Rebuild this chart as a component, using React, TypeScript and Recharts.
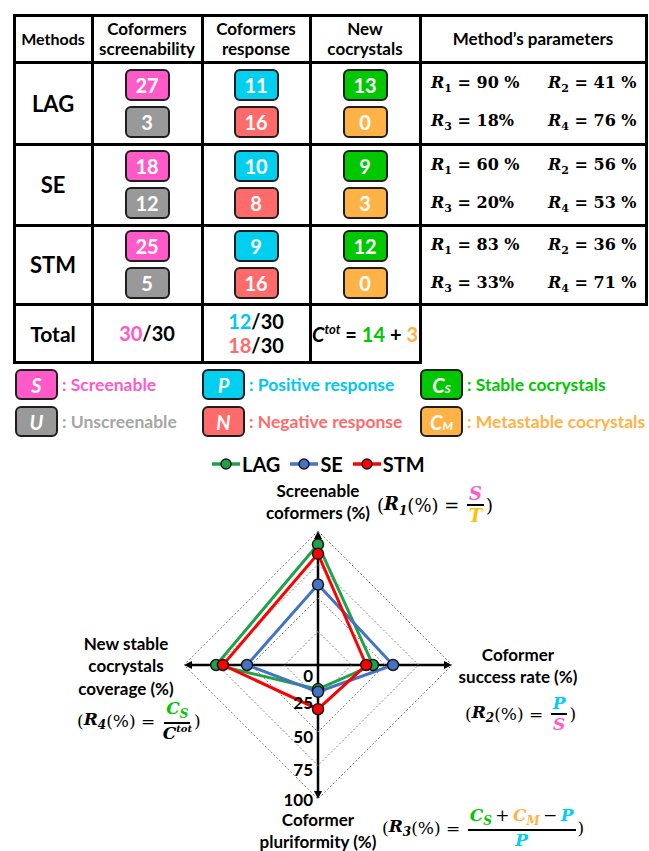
import React from 'react';
import { RadarChart, Radar, PolarGrid, PolarAngleAxis, PolarRadiusAxis } from 'recharts';

// radar values (R1..R4 in %) per method
const axisKeys = ['R1', 'R2', 'R3', 'R4'];
const lagValues = [90, 41, 18, 76];
const seValues = [60, 56, 20, 53];
const stmValues = [83, 36, 33, 71];
const radiusTicks = [0, 25, 50, 75, 100];

// table counts
const methods = ['LAG', 'SE', 'STM'];
const screenable = [27, 18, 25];
const unscreenable = [3, 12, 5];
const positiveResp = [11, 10, 9];
const negativeResp = [16, 8, 16];
const stableCocrystals = [13, 9, 12];
const metastableCocrystals = [0, 3, 0];
const totalCoformers = 30;
const totalScreenable = 30;
const totalPositive = 12;
const totalNegative = 18;
const totalStable = 14;
const totalMetastable = 3;

const angleLabels = [
  ['Screenable', 'coformers (%)'],
  ['Coformer', 'success rate (%)'],
  ['Coformer', 'pluriformity (%)'],
  ['New stable', 'cocrystals', 'coverage (%)'],
];

const PINK = '#FF5AC8';
const GRAY = '#999999';
const CYAN = '#00CFEF';
const SALMON = '#FF6B6B';
const GREEN = '#00C800';
const ORANGE = '#FFB347';
const GOLD = '#FFC000';
const GRAY_TEXT = '#A6A6A6';

const FONT = 'Lato, "Noto Sans", sans-serif';
const SERIF = '"DejaVu Serif", serif';

const series = [
  { name: 'LAG', color: '#1DA34A', values: lagValues },
  { name: 'SE', color: '#4472C4', values: seValues },
  { name: 'STM', color: '#FF0000', values: stmValues },
];

const radarData = axisKeys.map((k, i) => {
  const row: any = { axis: k };
  series.forEach((s) => (row[s.name] = s.values[i]));
  return row;
});

const W = 649;
const H = 851;
const CHART_TOP = 440;
const CX = 318;
const CY = 225;
const R = 134;

const colX = [14, 92, 202, 310, 420, 646];
const rowY = [15, 62, 144, 225, 304, 362];

const cellStyle = (c: number, r: number): React.CSSProperties => ({
  position: 'absolute',
  left: colX[c],
  top: rowY[r],
  width: colX[c + 1] - colX[c],
  height: rowY[r + 1] - rowY[r],
  display: 'flex',
  flexDirection: 'column',
  alignItems: 'center',
  justifyContent: 'center',
  gap: 5,
  fontWeight: 700,
});

const Badge = ({ color, children, w = 45, h = 32, italic = false }: any) => (
  <div
    style={{
      width: w,
      height: h,
      boxSizing: 'border-box',
      background: color,
      border: '2.5px solid #1e1e1e',
      borderRadius: 6,
      color: '#fff',
      fontWeight: 700,
      fontSize: 20,
      fontStyle: italic ? 'italic' : 'normal',
      display: 'flex',
      alignItems: 'center',
      justifyContent: 'center',
      lineHeight: 1,
    }}
  >
    {children}
  </div>
);

const Param = ({ idx, value, space = true }: any) => (
  <span style={{ fontFamily: SERIF, fontWeight: 700, fontSize: 16, whiteSpace: 'nowrap' }}>
    <i>R</i>
    <sub style={{ fontSize: 11 }}>{idx}</sub> = {value}
    {space ? ' %' : '%'}
  </span>
);

const Frac = ({ num, den }: any) => (
  <span
    style={{
      display: 'inline-flex',
      flexDirection: 'column',
      alignItems: 'center',
      verticalAlign: 'middle',
      margin: '0 2px',
    }}
  >
    <span style={{ borderBottom: '2px solid #000', padding: '0 2px', lineHeight: 1.1, textAlign: 'center' }}>{num}</span>
    <span style={{ lineHeight: 1.1 }}>{den}</span>
  </span>
);

const BI = ({ color, children, sub }: any) => (
  <span style={{ color, fontStyle: 'italic', fontWeight: 700 }}>
    {children}
    {sub && <sub style={{ fontSize: 12 }}>{sub}</sub>}
  </span>
);

const Formula = ({ left, centerY, idx, num, den, size = 18 }: any) => (
  <div
    style={{
      position: 'absolute',
      left,
      top: centerY - 25,
      height: 50,
      display: 'flex',
      alignItems: 'center',
      fontFamily: SERIF,
      fontSize: size,
      whiteSpace: 'nowrap',
    }}
  >
    <span>(</span>
    <BI sub={idx}>R</BI>
    <span>(%) =&nbsp;</span>
    <Frac num={num} den={den} />
    <span>)</span>
  </div>
);

const renderAngleTick = (props: any) => {
  const { x, y, payload } = props;
  const i = axisKeys.indexOf(payload.value);
  const offsets = [
    [0, -33],
    [58, -11],
    [0, 12],
    [-50, -22],
  ];
  const [dx, dy] = offsets[i];
  return (
    <g>
      {angleLabels[i].map((line, j) => (
        <text
          key={j}
          x={x + dx}
          y={y + dy + j * 22.5}
          textAnchor="middle"
          dominantBaseline="central"
          style={{ fontFamily: FONT, fontWeight: 700, fontSize: 17, fill: '#000' }}
        >
          {line}
        </text>
      ))}
    </g>
  );
};

const renderRadiusTick = (props: any) => {
  const { x, y, payload } = props;
  const v = payload.value;
  const dy = v === 0 ? 10 : v === 100 ? 0 : 4;
  return (
    <text
      x={x - 5}
      y={y + dy}
      textAnchor="end"
      dominantBaseline="central"
      style={{ fontFamily: FONT, fontWeight: 700, fontSize: 17, fill: '#000' }}
    >
      {v}
    </text>
  );
};

const AxisCross = () => {
  const dirs = [
    [0, -1],
    [1, 0],
    [0, 1],
    [-1, 0],
  ];
  return (
    <svg width={W} height={H - CHART_TOP} style={{ position: 'absolute', left: 0, top: CHART_TOP }}>
      {dirs.map(([dx, dy], i) => {
        const x2 = CX + dx * R;
        const y2 = CY + dy * R;
        const bx = x2 - dx * 8;
        const by = y2 - dy * 8;
        const pts = `${x2},${y2} ${bx - dy * 4},${by + dx * 4} ${bx + dy * 4},${by - dx * 4}`;
        return (
          <g key={i}>
            <line x1={CX} y1={CY} x2={bx} y2={by} stroke="#000" strokeWidth={2.5} />
            <polygon points={pts} fill="#000" />
          </g>
        );
      })}
    </svg>
  );
};

const legendRows = [
  [
    { x: 15, color: PINK, letter: 'S', text: ': Screenable', textColor: PINK },
    { x: 202, color: CYAN, letter: 'P', text: ': Positive response', textColor: '#00C8F0' },
    { x: 420, color: GREEN, letter: 'C', sub: 'S', text: ': Stable cocrystals', textColor: GREEN },
  ],
  [
    { x: 15, color: GRAY, letter: 'U', text: ': Unscreenable', textColor: GRAY_TEXT },
    { x: 202, color: SALMON, letter: 'N', text: ': Negative response', textColor: SALMON },
    { x: 420, color: ORANGE, letter: 'C', sub: 'M', text: ': Metastable cocrystals', textColor: ORANGE },
  ],
];
const legendRowTop = [369, 406];

export default function App() {
  const paramSets = [lagValues, seValues, stmValues];
  return (
    <div style={{ position: 'relative', width: W, height: H, overflow: 'hidden', background: '#fff', fontFamily: FONT }}>
      <style>{'body{margin:0}'}</style>

      {/* table grid */}
      {rowY.map((y, i) => {
        const x1 = i === 5 ? colX[4] : colX[5];
        return (
          <div key={'h' + i} style={{ position: 'absolute', left: colX[0] - 1.5, top: y - 1.5, width: x1 - colX[0] + 3, height: 3, background: '#000' }} />
        );
      })}
      {colX.map((x, i) => {
        const y1 = i === 5 ? rowY[4] : rowY[5];
        return (
          <div key={'v' + i} style={{ position: 'absolute', left: x - 1.5, top: rowY[0] - 1.5, width: 3, height: y1 - rowY[0] + 3, background: '#000' }} />
        );
      })}

      {/* header */}
      {['Methods', 'Coformers\nscreenability', 'Coformers\nresponse', 'New\ncocrystals', 'Method\u2019s parameters'].map((t, c) => (
        <div key={'hd' + c} style={{ ...cellStyle(c, 0), gap: 0, fontSize: c === 0 ? 16 : 17, lineHeight: '20px', textAlign: 'center', whiteSpace: 'pre' }}>
          {t}
        </div>
      ))}

      {/* method rows */}
      {methods.map((m, i) => (
        <React.Fragment key={m}>
          <div style={{ ...cellStyle(0, i + 1), fontSize: 22 }}>{m}</div>
          <div style={cellStyle(1, i + 1)}>
            <Badge color={PINK}>{screenable[i]}</Badge>
            <Badge color={GRAY}>{unscreenable[i]}</Badge>
          </div>
          <div style={cellStyle(2, i + 1)}>
            <Badge color={CYAN}>{positiveResp[i]}</Badge>
            <Badge color={SALMON}>{negativeResp[i]}</Badge>
          </div>
          <div style={cellStyle(3, i + 1)}>
            <Badge color={GREEN}>{stableCocrystals[i]}</Badge>
            <Badge color={ORANGE}>{metastableCocrystals[i]}</Badge>
          </div>
          <div style={{ ...cellStyle(4, i + 1), alignItems: 'stretch', gap: 0 }}>
            {[
              [1, 2],
              [3, 4],
            ].map(([a, b], j) => (
              <div key={j} style={{ position: 'relative', height: 38, display: 'flex', alignItems: 'center' }}>
                <div style={{ position: 'absolute', left: 11 }}>
                  <Param idx={a} value={paramSets[i][a - 1]} space={a !== 3} />
                </div>
                <div style={{ position: 'absolute', left: 128 }}>
                  <Param idx={b} value={paramSets[i][b - 1]} />
                </div>
              </div>
            ))}
          </div>
        </React.Fragment>
      ))}

      {/* totals */}
      <div style={{ ...cellStyle(0, 4), fontSize: 21 }}>Total</div>
      <div style={{ ...cellStyle(1, 4), fontSize: 20 }}>
        <span>
          <span style={{ color: PINK }}>{totalScreenable}</span>/{totalCoformers}
        </span>
      </div>
      <div style={{ ...cellStyle(2, 4), fontSize: 20, gap: 0, lineHeight: '24px' }}>
        <span>
          <span style={{ color: '#00C8F0' }}>{totalPositive}</span>/{totalCoformers}
        </span>
        <span>
          <span style={{ color: SALMON }}>{totalNegative}</span>/{totalCoformers}
        </span>
      </div>
      <div style={{ ...cellStyle(3, 4), fontSize: 20 }}>
        <span style={{ whiteSpace: 'nowrap' }}>
          <i>C</i>
          <sup style={{ fontSize: 13, fontStyle: 'italic' }}>tot</sup> = <span style={{ color: GREEN }}>{totalStable}</span> +{' '}
          <span style={{ color: ORANGE }}>{totalMetastable}</span>
        </span>
      </div>

      {/* badge legend */}
      {legendRows.map((row, r) =>
        row.map((e, k) => (
          <div key={r + '-' + k} style={{ position: 'absolute', left: e.x, top: legendRowTop[r], display: 'flex', alignItems: 'center', gap: 4 }}>
            <Badge color={e.color} w={43} h={31} italic>
              {e.letter}
              {e.sub && <sub style={{ fontSize: 12, marginTop: 8 }}>{e.sub}</sub>}
            </Badge>
            <span style={{ color: e.textColor, fontWeight: 700, fontSize: 17.5 }}>{e.text}</span>
          </div>
        ))
      )}

      {/* radar legend */}
      <div style={{ position: 'absolute', left: 212, top: 452, height: 24, display: 'flex', alignItems: 'center', gap: 10 }}>
        {series.map((s) => (
          <div key={s.name} style={{ display: 'flex', alignItems: 'center', gap: 2 }}>
            <svg width={28} height={14}>
              <line x1={0} y1={7} x2={28} y2={7} stroke={s.color} strokeWidth={3.5} />
              <circle cx={14} cy={7} r={5} fill={s.color} stroke="#1a1a1a" strokeWidth={1.5} />
            </svg>
            <span style={{ fontWeight: 700, fontSize: 20 }}>{s.name}</span>
          </div>
        ))}
      </div>

      <AxisCross />
      <div style={{ position: 'absolute', left: 0, top: CHART_TOP }}>
        <RadarChart
          width={W}
          height={H - CHART_TOP}
          data={radarData}
          cx={CX}
          cy={CY}
          outerRadius={R}
          startAngle={90}
          endAngle={-270}
          margin={{ top: 0, right: 0, bottom: 0, left: 0 }}
        >
          <PolarGrid gridType="polygon" radialLines={false} stroke="#8a8a8a" strokeDasharray="2 2" />
          <PolarAngleAxis dataKey="axis" tick={renderAngleTick} axisLine={false} tickLine={false} />
          <PolarRadiusAxis
            angle={-90}
            domain={[0, 100]}
            ticks={radiusTicks as any}
            tickCount={radiusTicks.length}
            axisLine={false}
            tickLine={false}
            tick={renderRadiusTick}
          />
          {series.map((s) => (
            <Radar
              key={s.name}
              name={s.name}
              dataKey={s.name}
              stroke={s.color}
              strokeWidth={3}
              fill={s.color}
              fillOpacity={0}
              dot={{ r: 5.5, fill: s.color, fillOpacity: 1, stroke: '#1a1a1a', strokeWidth: 1.5 }}
              isAnimationActive={false}
            />
          ))}
        </RadarChart>
      </div>

      {/* axis formulas */}
      <Formula left={377} centerY={505} idx="1" num={<BI color={PINK}>S</BI>} den={<BI color={GOLD}>T</BI>} />
      <Formula left={465} centerY={714} idx="2" size={17} num={<BI color={CYAN}>P</BI>} den={<BI color={PINK}>S</BI>} />
      <Formula
        left={382}
        centerY={828}
        idx="3"
        size={17}
        num={
          <span>
            <BI color={GREEN} sub="S">C</BI>{'\u2009+\u2009'}<BI color={ORANGE} sub="M">C</BI>{'\u2009\u2212\u2009'}<BI color={CYAN}>P</BI>
          </span>
        }
        den={<BI color={CYAN}>P</BI>}
      />
      <Formula
        left={77}
        centerY={721}
        idx="4"
        size={17}
        num={<BI color={GREEN} sub="S">C</BI>}
        den={
          <span style={{ fontWeight: 700, fontStyle: 'italic' }}>
            C<sup style={{ fontSize: 10 }}>tot</sup>
          </span>
        }
      />
    </div>
  );
}
